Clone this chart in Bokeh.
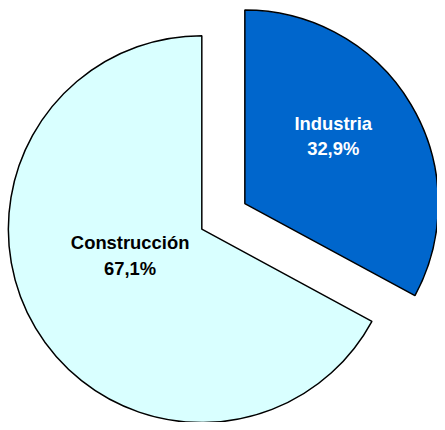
import math
from bokeh.plotting import figure
from bokeh.models import Range1d
from bokeh.core.properties import value
from bokeh.embed import file_html
from bokeh.resources import INLINE

# ---- data ----
categories = ["Industria", "Construcción"]
shares = [32.9, 67.1]
colors = ["#0066CC", "#D9FFFF"]
label_colors = ["white", "black"]

# ---- layout ----
W, H = 437, 422
CX, CY = 205, 197           # pie centre (reference pixels, y up)
R = 197
EXPLODE = [51, 0]
LABEL_OFFSETS = [(90, 69), (-73, -27)]
LINE_GAP = 13

p = figure(width=W, height=H, output_backend="svg", toolbar_location=None,
           x_range=Range1d(0, 445), y_range=Range1d(0, 430),
           min_border=0, outline_line_color=None, background_fill_color="white",
           border_fill_color="white")
p.axis.visible = False
p.grid.visible = False

total = sum(shares)
start = 90.0
for cat, v, col, ex, (lx, ly), lc in zip(categories, shares, colors, EXPLODE,
                                          LABEL_OFFSETS, label_colors):
    sweep = v / total * 360.0
    end = start - sweep
    mid = math.radians((start + end) / 2)
    cx = CX + ex * math.cos(mid)
    cy = CY + ex * math.sin(mid)
    p.wedge(x=[cx], y=[cy], radius=R, start_angle=[math.radians(start)],
            end_angle=[math.radians(end)], direction="clock",
            fill_color=col, line_color="black", line_width=1.5)
    pct = f"{v:.1f}".replace(".", ",") + "%"
    p.text(x=[cx + lx, cx + lx], y=[cy + ly + LINE_GAP, cy + ly - LINE_GAP],
           text=[cat, pct], text_align="center", text_baseline="middle",
           text_font=value("Liberation Sans"), text_font_style="bold",
           text_font_size="18.4px", text_color=lc)
    start = end

open("out.html", "w").write(file_html(p, INLINE))
